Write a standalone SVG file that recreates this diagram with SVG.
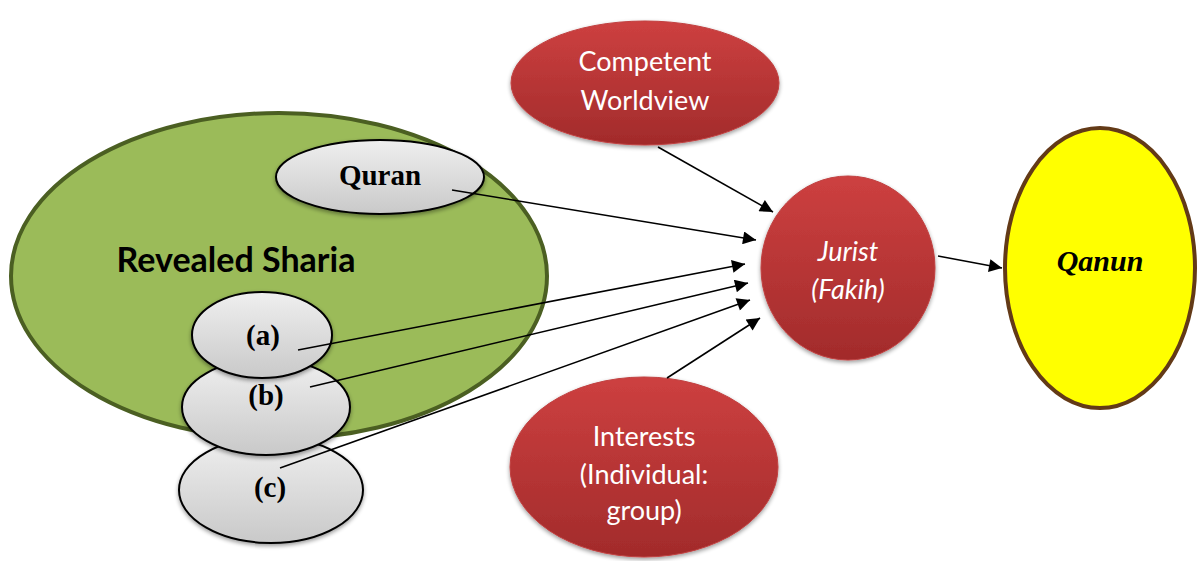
<svg xmlns="http://www.w3.org/2000/svg" width="1200" height="561" viewBox="0 0 1200 561">
<defs>
<linearGradient id="gGray" x1="0" y1="0" x2="0" y2="1">
<stop offset="0" stop-color="#efefef"/>
<stop offset="1" stop-color="#c9c9c9"/>
</linearGradient>
<linearGradient id="gRed" x1="0" y1="0" x2="0" y2="1">
<stop offset="0" stop-color="#cd4040"/>
<stop offset="1" stop-color="#a22b2b"/>
</linearGradient>
<filter id="sh" x="-20%" y="-20%" width="140%" height="150%">
<feGaussianBlur in="SourceAlpha" stdDeviation="2"/>
<feOffset dx="0" dy="2" result="b"/>
<feComponentTransfer><feFuncA type="linear" slope="0.4"/></feComponentTransfer>
<feMerge><feMergeNode/><feMergeNode in="SourceGraphic"/></feMerge>
</filter>
<marker id="arr" viewBox="0 0 10 10" refX="10" refY="5" markerWidth="18" markerHeight="13" markerUnits="userSpaceOnUse" orient="auto">
<path d="M0,0 L10,5 L0,10 z" fill="#000"/>
</marker>
<style>
.gray{fill:url(#gGray);stroke:#000;stroke-width:2;filter:url(#sh)}
.red{fill:url(#gRed);stroke:#c04040;stroke-width:1;filter:url(#sh)}
.lbl{font-family:"Liberation Serif",serif;font-weight:bold;font-size:29px;fill:#000;text-anchor:middle}
.wt{font-family:Lato,"Open Sans",sans-serif;font-size:27px;fill:#fff;text-anchor:middle}
.con{stroke:#000;stroke-width:1.6;fill:none;marker-end:url(#arr)}
</style>
</defs>
<g id="sharia">
<ellipse cx="279" cy="276" rx="268" ry="163" fill="#9bbb59" stroke="#4b5f22" stroke-width="4"/>
<text x="236" y="272" font-family="Lato,'Open Sans',sans-serif" font-weight="bold" font-size="34" text-anchor="middle" fill="#000">Revealed Sharia</text>
</g>
<g id="quran">
<ellipse class="gray" cx="380" cy="177" rx="104" ry="37"/>
<text class="lbl" x="380" y="185">Quran</text>
</g>
<g id="c">
<ellipse class="gray" cx="271" cy="490" rx="92" ry="53"/>
<text class="lbl" x="270" y="497">(c)</text>
</g>
<g id="b">
<ellipse class="gray" cx="266" cy="407" rx="84" ry="48"/>
<text class="lbl" x="266" y="405">(b)</text>
</g>
<g id="a">
<ellipse class="gray" cx="262" cy="335" rx="70" ry="43"/>
<text class="lbl" x="263" y="345">(a)</text>
</g>
<g id="worldview">
<ellipse class="red" cx="645" cy="83" rx="134" ry="62"/>
<text class="wt" x="645" y="71">Competent</text>
<text class="wt" x="645" y="110">Worldview</text>
</g>
<g id="jurist">
<ellipse class="red" cx="848" cy="268" rx="87" ry="92"/>
<text class="wt" x="848" y="261" font-style="italic">Jurist</text>
<text class="wt" x="848" y="299" font-style="italic">(Fakih)</text>
</g>
<g id="interests">
<ellipse class="red" cx="644" cy="467" rx="134" ry="90"/>
<text class="wt" x="644" y="446">Interests</text>
<text class="wt" x="644" y="484">(Individual:</text>
<text class="wt" x="644" y="520">group)</text>
</g>
<g id="qanun">
<ellipse cx="1100" cy="268" rx="95" ry="140" fill="#ffff00" stroke="#633a17" stroke-width="4"/>
<text x="1100" y="271" font-family="'Liberation Serif',serif" font-weight="bold" font-style="italic" font-size="30" text-anchor="middle" fill="#000">Qanun</text>
</g>
<g id="connectors">
<line class="con" x1="658" y1="147" x2="773" y2="212"/>
<line class="con" x1="452" y1="190" x2="756" y2="240"/>
<line class="con" x1="298" y1="350" x2="745" y2="264"/>
<line class="con" x1="310" y1="387" x2="748" y2="283"/>
<line class="con" x1="280" y1="468" x2="750" y2="300"/>
<line class="con" x1="667" y1="378" x2="760" y2="318"/>
<line class="con" x1="938" y1="256" x2="1002" y2="268"/>
</g>
</svg>
